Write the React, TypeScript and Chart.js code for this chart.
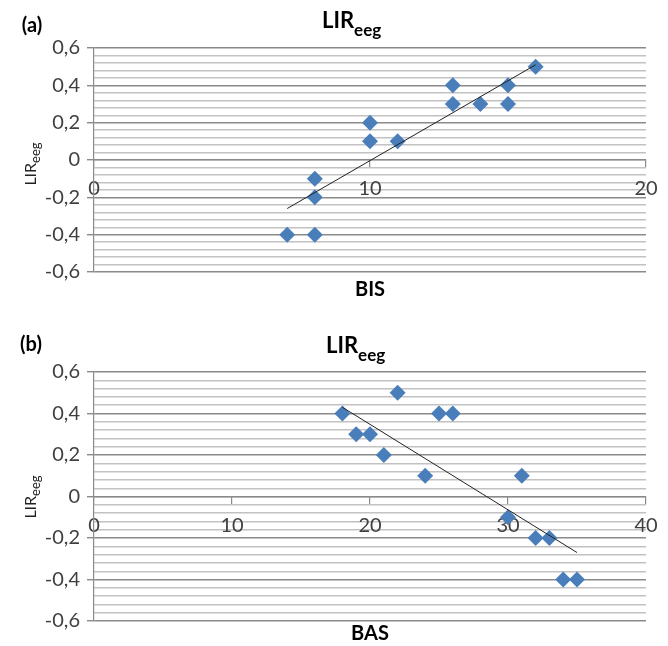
import React, { useEffect, useRef } from 'react';
import { Chart, registerables } from 'chart.js';

Chart.register(...registerables);

// Panel (a): BIS vs LIR_eeg
const bisValues = [7, 8, 8, 8, 10, 10, 11, 13, 13, 14, 15, 15, 16];
const lirA = [-0.4, -0.4, -0.2, -0.1, 0.1, 0.2, 0.1, 0.4, 0.3, 0.3, 0.4, 0.3, 0.5];
const trendXA = [7, 16];
const trendYA = [-0.26, 0.51];
const xMaxA = 20;

// Panel (b): BAS vs LIR_eeg
const basValues = [18, 19, 20, 21, 22, 24, 25, 26, 30, 31, 32, 33, 34, 35];
const lirB = [0.4, 0.3, 0.3, 0.2, 0.5, 0.1, 0.4, 0.4, -0.1, 0.1, -0.2, -0.2, -0.4, -0.4];
const trendXB = [18, 35];
const trendYB = [0.43, -0.27];
const xMaxB = 40;

const yMin = -0.6;
const yMax = 0.6;
const yMajorStep = 0.2;
const yMinorStep = 0.04;
const xStep = 10;

const FONT = 'Lato, "Open Sans", sans-serif';
const MARKER = '#4a7ebb';
const MAJOR = '#8a8a8a';
const MINOR = '#c2c2c2';
const TICKTXT = '#404040';

const isMajor = (v: number) => Math.abs(v / yMajorStep - Math.round(v / yMajorStep)) < 1e-6;
const fmt = (v: number) => (Math.abs(v) < 1e-9 ? '0' : v.toFixed(1).replace('.', ','));

function makeConfig(xs: number[], ys: number[], tx: number[], ty: number[], xMax: number, padTop: number, padBottom: number): any {
  return {
    type: 'scatter',
    data: {
      datasets: [
        {
          type: 'line',
          data: tx.map((x, i) => ({ x, y: ty[i] })),
          borderColor: '#222222',
          borderWidth: 1,
          pointRadius: 0,
          fill: false,
          order: 0,
        },
        {
          data: xs.map((x, i) => ({ x, y: ys[i] })),
          backgroundColor: MARKER,
          borderColor: MARKER,
          pointStyle: 'rectRot',
          pointRadius: 8,
          borderWidth: 0,
          order: 1,
        },
      ],
    },
    options: {
      responsive: false,
      animation: false,
      events: [],
      layout: { padding: { left: 34, right: 22, top: padTop, bottom: padBottom } },
      plugins: { legend: { display: false }, tooltip: { enabled: false }, title: { display: false } },
      scales: {
        x: {
          type: 'linear',
          position: { y: 0 },
          min: 0,
          max: xMax,
          ticks: {
            stepSize: xStep,
            padding: 10,
            color: TICKTXT,
            font: { family: FONT, size: 20 },
            maxRotation: 0,
            autoSkip: false,
          },
          grid: { drawOnChartArea: false, drawTicks: true, tickLength: 7, color: MAJOR, lineWidth: 1.2 },
          border: { display: true, color: MAJOR, width: 1.2 },
        },
        y: {
          type: 'linear',
          position: 'left',
          min: yMin,
          max: yMax,
          afterFit: (scale: any) => {
            scale.width = 60;
          },
          ticks: {
            stepSize: yMinorStep,
            autoSkip: false,
            padding: 7,
            color: TICKTXT,
            font: { family: FONT, size: 20 },
            callback: (v: any) => (isMajor(Number(v)) ? fmt(Number(v)) : ''),
          },
          grid: {
            color: (ctx: any) => (ctx.tick && isMajor(ctx.tick.value) ? MAJOR : MINOR),
            tickColor: (ctx: any) => (ctx.tick && isMajor(ctx.tick.value) ? MAJOR : 'rgba(0,0,0,0)'),
            lineWidth: 1.4,
            tickLength: 7,
            drawTicks: true,
          },
          border: { display: true, color: MAJOR, width: 1.2 },
        },
      },
    },
  };
}

function Panel({ top, height, cfg }: { top: number; height: number; cfg: any }) {
  const ref = useRef<HTMLCanvasElement | null>(null);
  useEffect(() => {
    if (!ref.current) return;
    const chart = new Chart(ref.current, cfg);
    return () => chart.destroy();
  }, []);
  return (
    <canvas
      ref={ref}
      width={668}
      height={height}
      style={{ position: 'absolute', left: 0, top, width: 668, height }}
    />
  );
}

const base: React.CSSProperties = {
  position: 'absolute',
  fontFamily: FONT,
  lineHeight: 1,
  whiteSpace: 'nowrap',
  color: '#000',
};

function Label({ cx, cy, size, bold, text }: { cx: number; cy: number; size: number; bold?: boolean; text: string }) {
  return (
    <div style={{ ...base, left: cx, top: cy, fontSize: size, fontWeight: bold ? 700 : 400, transform: 'translate(-50%,-50%)' }}>
      {text}
    </div>
  );
}

function Title({ left, capCenter }: { left: number; capCenter: number }) {
  return (
    <div style={{ ...base, left, top: capCenter - 0.53 * 22, fontSize: 22, fontWeight: 700 }}>
      LIR<span style={{ fontSize: 17, position: 'relative', top: 8 }}>eeg</span>
    </div>
  );
}

function YTitle({ cx, cy }: { cx: number; cy: number }) {
  return (
    <div
      style={{
        ...base,
        left: cx,
        top: cy,
        fontSize: 16,
        color: '#222',
        transform: 'translate(-50%,-50%) rotate(-90deg)',
      }}
    >
      LIR<span style={{ fontSize: 13, position: 'relative', top: 4 }}>eeg</span>
    </div>
  );
}

export default function App() {
  const cfgA = makeConfig(bisValues, lirA, trendXA, trendYA, xMaxA, 48, 48);
  const cfgB = makeConfig(basValues, lirB, trendXB, trendYB, xMaxB, 52, 25);
  return (
    <div style={{ position: 'absolute', left: 0, top: 0, width: 668, height: 646, background: '#fff', overflow: 'hidden' }}>
      <Panel top={0} height={320} cfg={cfgA} />
      <Panel top={320} height={326} cfg={cfgB} />
      <Label cx={32} cy={24} size={20} bold text="(a)" />
      <Title left={322} capCenter={20.5} />
      <YTitle cx={30} cy={164} />
      <Label cx={370} cy={288} size={20} bold text="BIS" />
      <Label cx={31} cy={343} size={20} bold text="(b)" />
      <Title left={326} capCenter={345.5} />
      <YTitle cx={30} cy={497} />
      <Label cx={370} cy={632} size={20} bold text="BAS" />
    </div>
  );
}
